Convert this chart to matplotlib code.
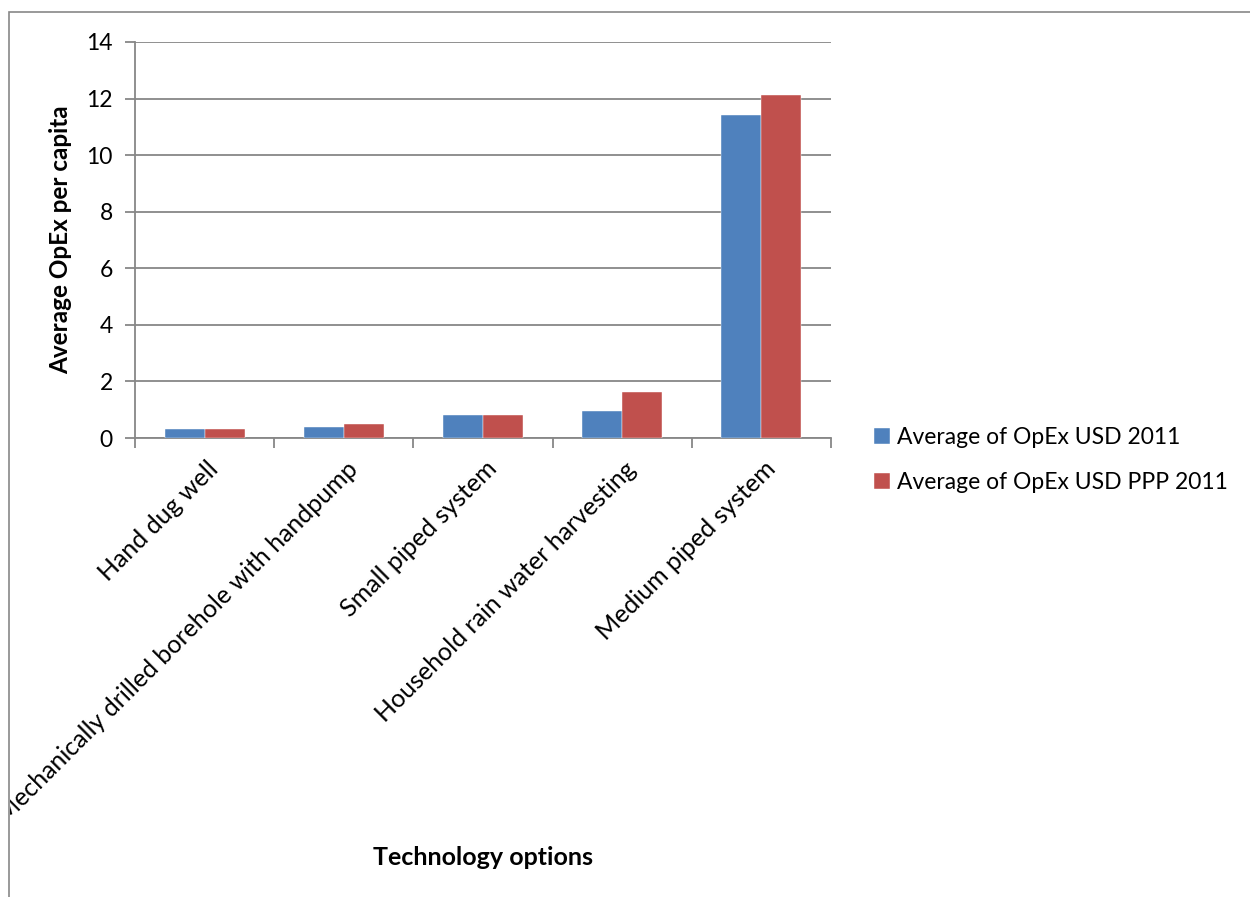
import matplotlib
matplotlib.use("Agg")
import matplotlib.pyplot as plt
import numpy as np
from matplotlib.patches import Rectangle

categories = ["Hand dug well",
              "Mechanically drilled borehole with handpump",
              "Small piped system",
              "Household rain water harvesting",
              "Medium piped system"]
usd_2011 = [0.33, 0.38, 0.83, 0.94, 11.43]
usd_ppp_2011 = [0.33, 0.51, 0.83, 1.61, 12.14]
series_names = ["Average of OpEx USD 2011", "Average of OpEx USD PPP 2011"]
y_ticks = [0, 2, 4, 6, 8, 10, 12, 14]

plt.rcParams['font.family'] = ['Lato', 'DejaVu Sans']
FS = 16.5

W, H = 1250, 897
fig = plt.figure(figsize=(W / 100, H / 100), dpi=100)
grey = "#878787"

# chart border (extends beyond image on right/bottom)
border = Rectangle((8.5 / W, -0.1), 1.2, 1 - 12.5 / H + 0.1,
                   transform=fig.transFigure, fill=False,
                   edgecolor=grey, linewidth=1.2, zorder=0)
fig.patches.append(border)
clip_rect = Rectangle((9.5 / W, -0.1), 1.2, 1.2, transform=fig.transFigure,
                      fill=False, visible=False)
fig.patches.append(clip_rect)

left, right, top, bottom = 135, 831, 42, 438
ax = fig.add_axes([left / W, 1 - bottom / H, (right - left) / W, (bottom - top) / H])
ax.patch.set_alpha(0)

x = np.arange(len(categories))
bw = 0.2875
b1 = ax.bar(x - bw / 2, usd_2011, bw, color="#4F81BD", edgecolor="#ffffff", linewidth=0.3,
            label=series_names[0], zorder=3)
b2 = ax.bar(x + bw / 2, usd_ppp_2011, bw, color="#C0504D", edgecolor="#ffffff", linewidth=0.3,
            label=series_names[1], zorder=3)

ax.set_xlim(-0.5, len(categories) - 0.5)
ax.set_ylim(0, 14)
ax.set_yticks(y_ticks)
ax.set_yticklabels([str(v) for v in y_ticks], fontsize=FS)
ax.yaxis.grid(True, color=grey, linewidth=1.3, zorder=0)
ax.set_axisbelow(True)

for s in ["top", "right"]:
    ax.spines[s].set_visible(False)
for s in ["left", "bottom"]:
    ax.spines[s].set_color(grey)
    ax.spines[s].set_linewidth(1.3)

ax.tick_params(axis="y", length=7, width=1.3, color=grey, pad=9)
# x ticks at category boundaries
ax.set_xticks(np.arange(len(categories) + 1) - 0.5)
ax.set_xticklabels([])
ax.tick_params(axis="x", length=7, width=1.3, color=grey)

# category labels rotated 45
for i, c in enumerate(categories):
    t = ax.annotate(c, xy=(i, 0), xycoords="data", xytext=(2, -19), textcoords="offset pixels",
                    rotation=45, rotation_mode="anchor", ha="right", va="top",
                    fontsize=18)
    t.set_clip_path(clip_rect)

ax.set_ylabel("Average OpEx per capita", fontsize=17.5, fontweight="bold", labelpad=10)
fig.text(483 / W, 1 - 857 / H, "Technology options", fontsize=18, fontweight="bold",
         ha="center", va="center")

leg = fig.legend(handles=[b1, b2], labels=series_names, loc="center left",
                 bbox_to_anchor=(853 / W, 1 - 460 / H), frameon=False, fontsize=FS,
                 handlelength=0.7, handleheight=0.7, handletextpad=0.3, labelspacing=1.05)

fig.savefig("out.png", dpi=100)
